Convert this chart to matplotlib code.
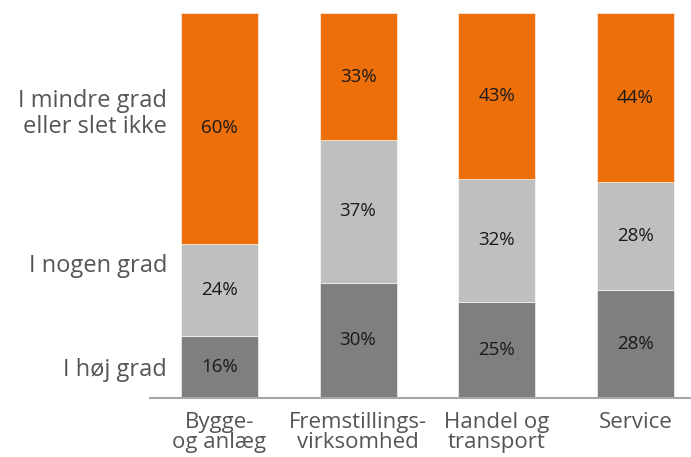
import matplotlib
matplotlib.use("Agg")
import matplotlib.pyplot as plt
import numpy as np

categories = ["Bygge-\nog anlæg", "Fremstillings-\nvirksomhed", "Handel og\ntransport", "Service"]
series_names = ["I høj grad", "I nogen grad", "I mindre grad\neller slet ikke"]
hoej = [16, 30, 25, 28]
nogen = [24, 37, 32, 28]
mindre = [60, 33, 43, 44]
colors = ["#7f807e", "#bfbfbd", "#ec6f0a"]
label_y = [7.3, 34.3, 73.8]

fig = plt.figure(figsize=(6.91, 4.57), dpi=100)
ax = fig.add_axes([0.217, 0.129, 0.783, 0.8426])

x = np.arange(len(categories))
bottom = np.zeros(len(categories))
for vals, c in zip([hoej, nogen, mindre], colors):
    ax.bar(x, vals, width=0.555, bottom=bottom, color=c, edgecolor="white", linewidth=0.4)
    for xi, b, v in zip(x, bottom, vals):
        ax.text(xi, b + v / 2, f"{v}%", ha="center", va="center", fontsize=13.5,
                family="Open Sans", color="#1a1a1a")
    bottom += np.array(vals)

ax.set_ylim(0, 100)
ax.set_xlim(-0.5, 3.40)
ax.set_yticks([])
for s in ["top", "right", "left"]:
    ax.spines[s].set_visible(False)
ax.spines["bottom"].set_color("#a6a6a6")
ax.spines["bottom"].set_linewidth(1.5)
ax.set_xticks(x)
ax.set_xticklabels(categories, fontsize=16, family="Open Sans", color="#555555", linespacing=0.95)
ax.tick_params(axis="x", length=0, pad=10)

for name, y in zip(series_names, label_y):
    ax.text(-0.377, y, name, ha="right", va="center", fontsize=17, family="Open Sans",
            color="#555555", linespacing=1.1, transform=ax.transData, clip_on=False)

fig.savefig("out.png", dpi=100)
